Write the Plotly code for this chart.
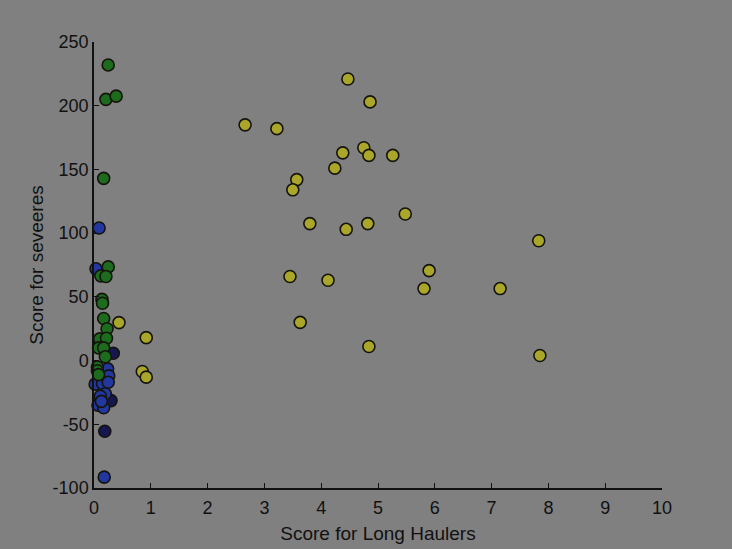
import plotly.graph_objects as go

# yellow group (long haulers)
yellow_x = [0.44, 0.92, 0.85, 0.92, 2.66, 3.22, 4.47, 4.86, 3.57, 3.50, 4.38, 4.24, 4.75, 4.84,
            5.26, 3.80, 4.44, 4.82, 5.48, 3.45, 4.12, 5.90, 5.81, 7.15, 7.83, 3.63, 4.84, 7.85]
yellow_y = [29.8, 18, -8.6, -13, 185, 182, 221, 203, 142, 134, 163, 151, 167, 161,
            161, 107.5, 103, 107.5, 115, 66, 63, 70.6, 56.5, 56.5, 94, 30, 11, 4]

# green group
green_x = [0.25, 0.21, 0.39, 0.17, 0.25, 0.12, 0.21, 0.14, 0.15, 0.17, 0.23, 0.10, 0.22,
           0.08, 0.17, 0.20, 0.06, 0.06, 0.08]
green_y = [232, 205, 207.5, 143, 73.5, 66.5, 66, 48, 45, 33, 25, 17, 17.5,
           10, 10, 3, -5, -8, -11]

# blue group
blue_x = [0.09, 0.035, 0.24, 0.26, 0.02, 0.15, 0.25, 0.20, 0.11, 0.07, 0.17, 0.13, 0.18]
blue_y = [104, 72, -6.5, -12, -18.5, -18, -17, -26, -28, -35, -37, -32, -91.5]

# dark navy group
navy_x = [0.34, 0.30, 0.19]
navy_y = [5.7, -31.4, -55.5]

# tick labels (plain hyphen minus like the original)
x_ticks = list(range(0, 11))
y_ticks = [-100, -50, 0, 50, 100, 150, 200, 250]
y_tick_labels = ["-100", "-50", "0", "50", "100", "150", "200", "250"]

groups = [
    ("navy", navy_x, navy_y, "#17174f"),
    ("blue", blue_x, blue_y, "#2237a0"),
    ("green", green_x, green_y, "#1d6b1d"),
    ("yellow", yellow_x, yellow_y, "#aaa62a"),
]

fig = go.Figure()
for name, xs, ys, col in groups:
    fig.add_trace(go.Scatter(
        x=xs, y=ys, mode="markers", name=name,
        marker=dict(size=12, color=col, line=dict(color="#14140c", width=1.6)),
        cliponaxis=False,
    ))

font_family = "Liberation Sans, Arial"
axis_style = dict(
    showgrid=False, zeroline=False, showline=True, linecolor="#111111", linewidth=1.5,
    ticks="inside", ticklen=5, tickcolor="#111111", tickwidth=1,
    tickfont=dict(family=font_family, size=18, color="#111111"),
    mirror=False, automargin=False,
)

fig.update_xaxes(range=[0, 10], tickvals=x_ticks, ticklabelstandoff=3, **axis_style,
                 title=dict(text="Score for Long Haulers", standoff=9,
                            font=dict(family=font_family, size=19, color="#111111")))
fig.update_yaxes(range=[-100, 250], tickvals=y_ticks, ticktext=y_tick_labels, **axis_style,
                 title=dict(text="Score for seveeres", standoff=4,
                            font=dict(family=font_family, size=19, color="#111111")))

fig.update_layout(
    width=732, height=549,
    margin=dict(l=94, r=70, t=42, b=61),
    paper_bgcolor="#808080", plot_bgcolor="#808080",
    showlegend=False,
)

# drop the browser's default page margin so the figure fills the window
fig.write_html("out.html", config={"displayModeBar": False},
               post_script="document.body.style.margin='0';")
